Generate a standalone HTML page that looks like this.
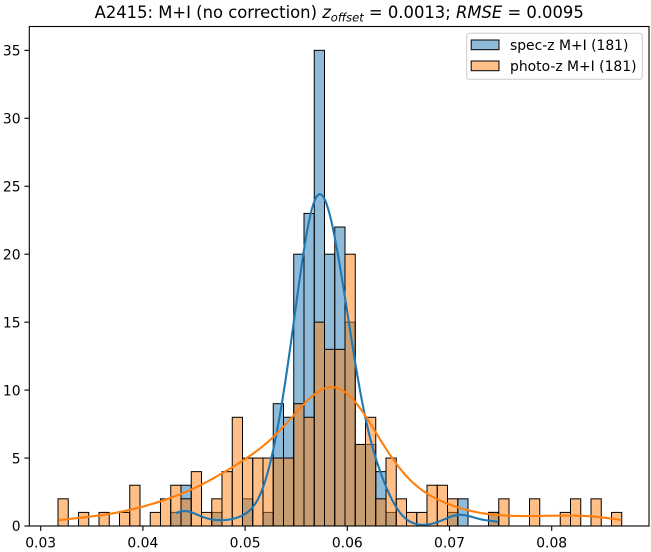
<!DOCTYPE html>
<html><head><meta charset="utf-8"><style>
html,body{margin:0;padding:0;background:#fff;}
svg{display:block;}
text{font-family:"DejaVu Sans","Liberation Sans",sans-serif;fill:#000;}
</style></head><body>
<svg id="s" width="651" height="552" viewBox="0 0 651 552" xmlns="http://www.w3.org/2000/svg">
<rect x="0" y="0" width="651" height="552" fill="#fff"/>
<g fill="rgba(31,119,180,0.5)" stroke="#000" stroke-width="1">
<rect x="170.75" y="512.41" width="10.25" height="13.59"/>
<rect x="181" y="485.23" width="10.25" height="40.77"/>
<rect x="211.75" y="512.41" width="10.25" height="13.59"/>
<rect x="242.5" y="498.82" width="10.25" height="27.18"/>
<rect x="263" y="512.41" width="10.25" height="13.59"/>
<rect x="273.25" y="403.69" width="10.25" height="122.31"/>
<rect x="283.5" y="417.28" width="10.25" height="108.72"/>
<rect x="293.75" y="254.2" width="10.25" height="271.8"/>
<rect x="304" y="213.43" width="10.25" height="312.57"/>
<rect x="314.25" y="50.35" width="10.25" height="475.65"/>
<rect x="324.5" y="254.2" width="10.25" height="271.8"/>
<rect x="334.75" y="227.02" width="10.25" height="298.98"/>
<rect x="345" y="322.15" width="10.25" height="203.85"/>
<rect x="355.25" y="444.46" width="10.25" height="81.54"/>
<rect x="365.5" y="444.46" width="10.25" height="81.54"/>
<rect x="375.75" y="471.64" width="10.25" height="54.36"/>
<rect x="386" y="512.41" width="10.25" height="13.59"/>
<rect x="447.5" y="512.41" width="10.25" height="13.59"/>
<rect x="457.75" y="498.82" width="10.25" height="27.18"/>
<rect x="488.5" y="512.41" width="10.25" height="13.59"/>
</g>
<g fill="rgba(255,127,14,0.5)" stroke="#000" stroke-width="1">
<rect x="58" y="498.82" width="10.25" height="27.18"/>
<rect x="78.5" y="512.41" width="10.25" height="13.59"/>
<rect x="99" y="512.41" width="10.25" height="13.59"/>
<rect x="119.5" y="512.41" width="10.25" height="13.59"/>
<rect x="129.75" y="485.23" width="10.25" height="40.77"/>
<rect x="150.25" y="512.41" width="10.25" height="13.59"/>
<rect x="160.5" y="498.82" width="10.25" height="27.18"/>
<rect x="170.75" y="485.23" width="10.25" height="40.77"/>
<rect x="181" y="498.82" width="10.25" height="27.18"/>
<rect x="191.25" y="471.64" width="10.25" height="54.36"/>
<rect x="201.5" y="512.41" width="10.25" height="13.59"/>
<rect x="211.75" y="498.82" width="10.25" height="27.18"/>
<rect x="222" y="471.64" width="10.25" height="54.36"/>
<rect x="232.25" y="417.28" width="10.25" height="108.72"/>
<rect x="242.5" y="458.05" width="10.25" height="67.95"/>
<rect x="252.75" y="458.05" width="10.25" height="67.95"/>
<rect x="263" y="458.05" width="10.25" height="67.95"/>
<rect x="273.25" y="458.05" width="10.25" height="67.95"/>
<rect x="283.5" y="458.05" width="10.25" height="67.95"/>
<rect x="293.75" y="403.69" width="10.25" height="122.31"/>
<rect x="304" y="417.28" width="10.25" height="108.72"/>
<rect x="314.25" y="322.15" width="10.25" height="203.85"/>
<rect x="324.5" y="349.33" width="10.25" height="176.67"/>
<rect x="334.75" y="349.33" width="10.25" height="176.67"/>
<rect x="345" y="254.2" width="10.25" height="271.8"/>
<rect x="355.25" y="444.46" width="10.25" height="81.54"/>
<rect x="365.5" y="417.28" width="10.25" height="108.72"/>
<rect x="375.75" y="498.82" width="10.25" height="27.18"/>
<rect x="386" y="458.05" width="10.25" height="67.95"/>
<rect x="396.25" y="498.82" width="10.25" height="27.18"/>
<rect x="406.5" y="512.41" width="10.25" height="13.59"/>
<rect x="416.75" y="512.41" width="10.25" height="13.59"/>
<rect x="427" y="485.23" width="10.25" height="40.77"/>
<rect x="437.25" y="485.23" width="10.25" height="40.77"/>
<rect x="447.5" y="498.82" width="10.25" height="27.18"/>
<rect x="488.5" y="512.41" width="10.25" height="13.59"/>
<rect x="498.75" y="498.82" width="10.25" height="27.18"/>
<rect x="529.5" y="498.82" width="10.25" height="27.18"/>
<rect x="560.25" y="512.41" width="10.25" height="13.59"/>
<rect x="570.5" y="498.82" width="10.25" height="27.18"/>
<rect x="591" y="498.82" width="10.25" height="27.18"/>
<rect x="611.5" y="512.41" width="10.25" height="13.59"/>
</g>
<path id="kb" d="" fill="none" stroke="#1f77b4" stroke-width="2.1" stroke-linejoin="round"/>
<path id="ko" d="" fill="none" stroke="#ff7f0e" stroke-width="2.1" stroke-linejoin="round"/>
<rect x="29.3" y="26.5" width="619.7" height="499.5" fill="none" stroke="#000" stroke-width="1.1"/>
<g stroke="#000" stroke-width="1.1">
<line x1="24.4" y1="526" x2="29.3" y2="526"/>
<line x1="24.4" y1="458.05" x2="29.3" y2="458.05"/>
<line x1="24.4" y1="390.1" x2="29.3" y2="390.1"/>
<line x1="24.4" y1="322.15" x2="29.3" y2="322.15"/>
<line x1="24.4" y1="254.2" x2="29.3" y2="254.2"/>
<line x1="24.4" y1="186.25" x2="29.3" y2="186.25"/>
<line x1="24.4" y1="118.3" x2="29.3" y2="118.3"/>
<line x1="24.4" y1="50.35" x2="29.3" y2="50.35"/>
<line x1="40.7" y1="526" x2="40.7" y2="530.9"/>
<line x1="142.9" y1="526" x2="142.9" y2="530.9"/>
<line x1="245.1" y1="526" x2="245.1" y2="530.9"/>
<line x1="347.3" y1="526" x2="347.3" y2="530.9"/>
<line x1="449.5" y1="526" x2="449.5" y2="530.9"/>
<line x1="551.7" y1="526" x2="551.7" y2="530.9"/>
</g>
<g font-size="13.9" text-anchor="end">
<text x="20.6" y="531.2">0</text>
<text x="20.6" y="463.25">5</text>
<text x="20.6" y="395.3">10</text>
<text x="20.6" y="327.35">15</text>
<text x="20.6" y="259.4">20</text>
<text x="20.6" y="191.45">25</text>
<text x="20.6" y="123.5">30</text>
<text x="20.6" y="55.55">35</text>
</g>
<g font-size="13.9" text-anchor="middle">
<text x="40.7" y="547.6">0.03</text>
<text x="142.9" y="547.6">0.04</text>
<text x="245.1" y="547.6">0.05</text>
<text x="347.3" y="547.6">0.06</text>
<text x="449.5" y="547.6">0.07</text>
<text x="551.7" y="547.6">0.08</text>
</g>
<text x="339.2" y="18.2" font-size="16.4" text-anchor="middle">A2415: M+I (no correction) <tspan font-style="italic">z</tspan><tspan font-style="italic" font-size="11.5" dy="3.5">offset</tspan><tspan dy="-3.5"> = 0.0013; </tspan><tspan font-style="italic">RMSE</tspan> = 0.0095</text>
<rect x="466.7" y="33.3" width="175.6" height="46" rx="2.8" ry="2.8" fill="rgba(255,255,255,0.8)" stroke="#cccccc" stroke-width="1"/>
<rect x="471.2" y="40" width="27.8" height="9.7" fill="rgba(31,119,180,0.5)" stroke="#000" stroke-width="1"/>
<rect x="471.2" y="61" width="27.8" height="9.7" fill="rgba(255,127,14,0.5)" stroke="#000" stroke-width="1"/>
<text x="510" y="50" font-size="13.9">spec-z M+I (181)</text>
<text x="510" y="71" font-size="13.9">photo-z M+I (181)</text>
</svg>
<script>
(function(){
  var L=58, W=10.25, Y0=526, SY=13.59;
  var spec={11:1,12:3,15:1,18:2,20:1,21:9,22:8,23:20,24:23,25:35,26:20,27:22,28:15,29:6,30:6,31:4,32:1,38:1,39:2,42:1};
  var photo={0:2,2:1,4:1,6:1,7:3,9:1,10:2,11:3,12:2,13:4,14:1,15:2,16:4,17:8,18:5,19:5,20:5,21:5,22:5,23:9,24:8,25:15,26:13,27:13,28:20,29:6,30:8,31:2,32:5,33:2,34:1,35:1,36:3,37:3,38:2,42:1,43:2,46:2,49:1,50:2,52:2,54:1};
  function kde(counts, lo, hi){
    var pts=[];
    for (var k in counts){var i=+k,c=counts[k];for(var j=0;j<c;j++){pts.push(L+i*W+(j+0.5)/c*W);}}
    var n=pts.length,m=0,a;
    for(a=0;a<n;a++)m+=pts[a];
    m/=n;
    var v=0;
    for(a=0;a<n;a++)v+=(pts[a]-m)*(pts[a]-m);
    v/=(n-1);
    var bw=Math.sqrt(v)*Math.pow(n,-0.2);
    var d="";
    for(var g=0;g<200;g++){
      var x=lo+(hi-lo)*g/199,s=0;
      for(a=0;a<n;a++){var z=(x-pts[a])/bw;s+=Math.exp(-0.5*z*z);}
      var cnt=s/(bw*Math.sqrt(2*Math.PI))*W;
      var y=Y0-cnt*SY;
      d+=(g?"L":"M")+x.toFixed(2)+","+y.toFixed(2);
    }
    return d;
  }
  document.getElementById("kb").setAttribute("d",kde(spec,175.7,498.3));
  document.getElementById("ko").setAttribute("d",kde(photo,58.3,621.5));
})();
</script>
</body></html>
